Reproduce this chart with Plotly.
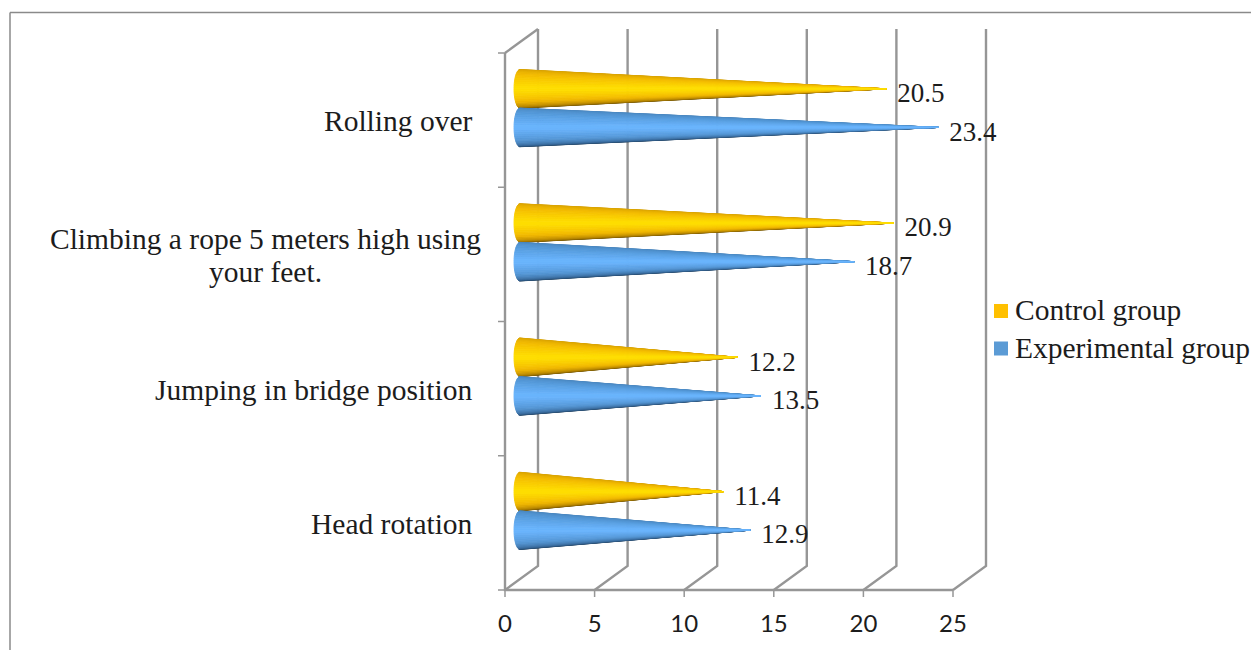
import math
import plotly.graph_objects as go

categories = ["Head rotation\u00a0", "Jumping in bridge position\u00a0",
              "Climbing a rope 5 meters high using<br>your feet.", "Rolling over\u00a0"]
control_values = [11.4, 12.2, 20.9, 20.5]
experimental_values = [12.9, 13.5, 18.7, 23.4]
series_names = ["Control group", "Experimental group"]
x_ticks = [0, 5, 10, 15, 20, 25]
y_ticks = [0, 1, 2, 3, 4]

W, H = 1251, 650
L, R, T, B = 505, 953, 53, 590          # front frame, pixels
L0, R0, T0, B0 = 490, 1015, 20, 602     # plot area, pixels
XU = (R - L) / 25
YU = (B - T) / 4
BACK_X = 33 / XU
BACK_Y = 24 / YU
MID_X = 14 / XU
MID_Y = 12 / YU
BASE_X = 15 / XU
ELL_X = 6 / XU
CONE_H = 19.3 / YU
N = 28
GRID = "#969696"
SERIF = "Liberation Serif, Times New Roman, serif"
LABEL_SIZE = 29.5

SHADES = {
    "Control group": [(0, "#D29C00"), (.25, "#F4BC00"), (.5, "#FFE000"), (.72, "#F2B800"), (.88, "#B08000"), (1, "#5E4600")],
    "Experimental group": [(0, "#4781B8"), (.25, "#559BDC"), (.5, "#6BB6FF"), (.72, "#5597D6"), (.88, "#38699A"), (1, "#1B3853")],
}
SWATCH = {"Control group": "#FFC000", "Experimental group": "#5B9BD5"}
TEXT = "#1c1c1c"


def mix(stops, t):
    def rgb(h):
        return [int(h[i:i + 2], 16) for i in (1, 3, 5)]
    for (a, ca), (b, cb) in zip(stops, stops[1:]):
        if t <= b:
            f = (t - a) / (b - a)
            return "rgb(%d,%d,%d)" % tuple(round(p + (q - p) * f) for p, q in zip(rgb(ca), rgb(cb)))
    return stops[-1][1]


def vx(p):
    return (p - L) / XU


def vy(p):
    return (B - p) / YU


def px(x):
    return (x - L0) / (R0 - L0)


def py(y):
    return (B0 - y) / (B0 - T0)


fig = go.Figure()


def frame(xs, ys, width=2.4):
    fig.add_trace(go.Scatter(x=xs, y=ys, mode="lines", line=dict(color=GRID, width=width),
                             showlegend=False, hoverinfo="skip"))


# back wall and floor lines of the 3-D frame
for v in x_ticks:
    frame([v, v + BACK_X, v + BACK_X], [0, BACK_Y, 4 + BACK_Y])
frame([0, BACK_X], [4, 4 + BACK_Y])
# front axes and their tick marks
frame([0, 0, 25], [4, 0, 0])
tx, ty = [], []
for v in x_ticks:
    tx += [v, v, None]
    ty += [0, -7 / YU, None]
for j in y_ticks:
    tx += [0, -7 / XU, None]
    ty += [j, j, None]
frame(tx, ty, 1.5)


def add_cone(value, center, stops):
    tip = value + MID_X
    # outer strips first, so that the bright centre stays on top at the tip
    order = sorted(range(N), key=lambda k: -abs(k + .5 - N / 2))
    for k in order:
        a0 = -math.pi / 2 + math.pi * k / N
        a1 = -math.pi / 2 + math.pi * (k + 1) / N
        col = mix(stops, (k + .5) / N)
        xs = [BASE_X - ELL_X * math.cos(a0), BASE_X - ELL_X * math.cos(a1), tip]
        ys = [center - CONE_H * math.sin(a0), center - CONE_H * math.sin(a1), center]
        fig.add_trace(go.Scatter(
            x=xs + xs[:1], y=ys + ys[:1], mode="lines", fill="toself", fillcolor=col,
            line=dict(color=col, width=0.9), showlegend=False, hoverinfo="skip"))


for i in range(len(categories)):
    c = i + .5 + MID_Y
    add_cone(control_values[i], c + CONE_H, SHADES["Control group"])
    add_cone(experimental_values[i], c - CONE_H, SHADES["Experimental group"])

# value labels
for vals, sign in ((control_values, 1), (experimental_values, -1)):
    fig.add_trace(go.Scatter(
        x=[v + MID_X + 11 / XU for v in vals],
        y=[i + .5 + MID_Y + sign * CONE_H - 6.5 / YU for i in range(len(vals))],
        mode="text", text=[f"{v:.1f}" for v in vals], textposition="middle right",
        textfont=dict(family=SERIF, size=27, color=TEXT),
        cliponaxis=False, showlegend=False, hoverinfo="skip"))

# legend, drawn by hand to keep the swatch close to its text
LEGEND_Y = [311, 348.5]
for name, ly in zip(series_names, LEGEND_Y):
    fig.add_trace(go.Scatter(
        x=[vx(1001)], y=[vy(ly)], mode="markers", name=name, cliponaxis=False, showlegend=False,
        marker=dict(symbol="square", size=14, color=SWATCH[name]), hoverinfo="skip"))

annotations = []
for i, t in enumerate(categories):
    lines = t.split("<br>")
    if len(lines) == 1:
        annotations.append(dict(
            x=0, y=i + .5, xref="x", yref="y", text=t, showarrow=False, xanchor="right", yanchor="middle",
            xshift=-23, yshift=-1, font=dict(family=SERIF, size=LABEL_SIZE, color=TEXT)))
    else:
        for n, line in enumerate(lines):
            annotations.append(dict(
                x=px(265.5), y=i + .5, xref="paper", yref="y", text=line, showarrow=False,
                xanchor="center", yanchor="middle", yshift=-1 + 16.5 * (1 - 2 * n),
                font=dict(family=SERIF, size=LABEL_SIZE, color=TEXT)))
annotations += [dict(
    x=px(1015), y=py(ly - 1), xref="paper", yref="paper", text=name, showarrow=False, xanchor="left",
    yanchor="middle", xshift=-2, font=dict(family=SERIF, size=LABEL_SIZE, color=TEXT))
    for name, ly in zip(series_names, LEGEND_Y)]

shapes = [
    dict(type="line", xref="paper", yref="paper", x0=px(10), x1=px(W), y0=py(12.5), y1=py(12.5),
         line=dict(color="#8a8a8a", width=1.5)),
    dict(type="line", xref="paper", yref="paper", x0=px(10), x1=px(10), y0=py(12.5), y1=py(H),
         line=dict(color="#8a8a8a", width=1.5)),
]

fig.update_layout(
    width=W, height=H, autosize=False, showlegend=False,
    margin=dict(l=L0, r=W - R0, t=T0, b=H - B0, pad=0),
    paper_bgcolor="white", plot_bgcolor="white",
    xaxis=dict(range=[vx(L0), vx(R0)], tickvals=x_ticks, ticks="", showline=False, showgrid=False,
               zeroline=False, fixedrange=True, ticklabelstandoff=5,
               tickfont=dict(family="Lato", size=24, color=TEXT)),
    yaxis=dict(range=[vy(B0), vy(T0)], tickvals=y_ticks, ticks="", showline=False, showgrid=False,
               zeroline=False, fixedrange=True, showticklabels=False),
    annotations=annotations, shapes=shapes, hovermode=False,
)

fig.write_html("out.html", config=dict(displayModeBar=False),
               post_script="document.body.style.margin='0';document.body.style.overflow='hidden';")
